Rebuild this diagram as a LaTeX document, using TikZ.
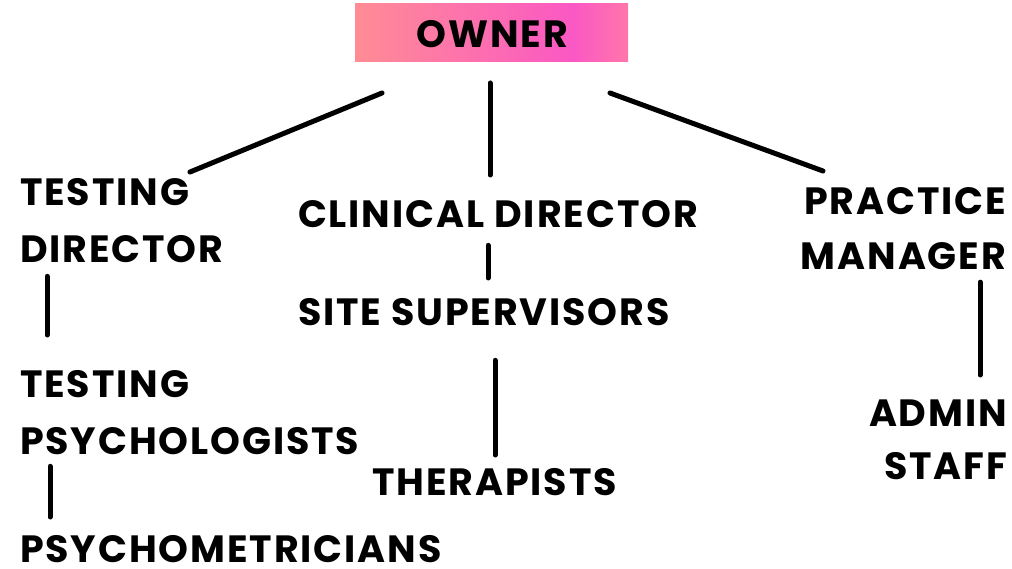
\documentclass[tikz,border=0pt]{standalone}
\usepackage{fontspec}
\setmainfont{Poppins}[LetterSpace=5]
\usetikzlibrary{calc}
\definecolor{gA}{RGB}{255,140,148}
\definecolor{gB}{RGB}{250,88,196}
\definecolor{gC}{RGB}{255,118,170}
\pgfdeclarehorizontalshading{ownergrad}{100bp}{color(0bp)=(gA); color(25bp)=(gA); color(65bp)=(gB); color(75bp)=(gC); color(100bp)=(gC)}
\tikzset{
  lbl/.style={inner sep=0pt, outer sep=0pt, font=\fontsize{38}{57}\selectfont\bfseries},
  conn/.style={line width=5pt, line cap=round},
}
\begin{document}
\begin{tikzpicture}[x=1pt,y=-1pt]
\useasboundingbox (0,0) rectangle (1012,569);
\node[lbl, shading=ownergrad, minimum width=273pt, minimum height=58pt] (owner) at (491.5,33) {};
\node[lbl] (ownert) at (492.5,34) {OWNER};
\node[lbl, anchor=north west, align=left] (td) at (20,178) {TESTING\\DIRECTOR};
\node[lbl, anchor=north west] (cd) at (298,200) {CLINICAL DIRECTOR};
\node[lbl, anchor=north east, align=right, font=\fontsize{38}{55}\selectfont\bfseries] (pm) at (1006,188) {PRACTICE\\MANAGER};
\node[lbl, anchor=north west] (ss) at (298,298) {SITE SUPERVISORS};
\node[lbl, anchor=north west, align=left] (tp) at (20,370) {TESTING\\PSYCHOLOGISTS};
\node[lbl, anchor=north west] (th) at (372,468) {THERAPISTS};
\node[lbl, anchor=north west, text depth=0pt] (pmx) at (20,535) {PSYCHOMETRICIANS};
\node[lbl, anchor=north east, align=right, font=\fontsize{38}{53}\selectfont\bfseries] (as) at (1007,400) {ADMIN\\STAFF};
% connectors
\draw[conn] ([shift={(27,31)}]owner.south west) -- ([shift={(170,-6)}]td.north west);
\draw[conn] ([shift={(-1.5,21)}]owner.south) -- ([shift={(192,-25)}]cd.north west);
\draw[conn] ([shift={(-18,31)}]owner.south east) -- ([shift={(-183,-17)}]pm.north east);
\draw[conn] ([shift={(190,18)}]cd.south west) -- ([shift={(190,-20)}]ss.north west);
\draw[conn] ([shift={(197,35)}]ss.south west) -- ([shift={(123,-13)}]th.north west);
\draw[conn] ([shift={(27,14)}]td.south west) -- ([shift={(27,-35)}]tp.north west);
\draw[conn] ([shift={(30,12)}]tp.south west) -- ([shift={(30,-18)}]pmx.north west);
\draw[conn] ([shift={(-26,12)}]pm.south east) -- ([shift={(-27,-25)}]as.north east);
\end{tikzpicture}
\end{document}
